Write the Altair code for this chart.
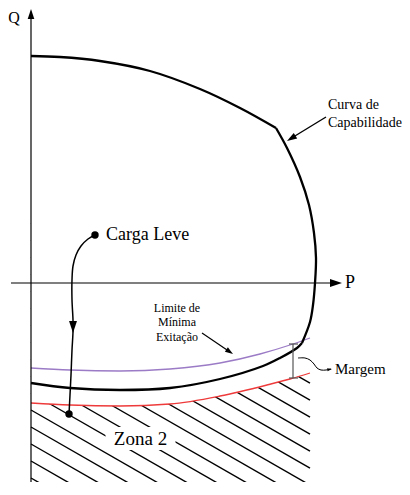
import altair as alt
import pandas as pd
import numpy as np

# ---- data (P, Q in schematic units) ----
upper_P = [0, 29, 69, 119, 169, 209, 245]
upper_Q = [227, 226, 222, 212, 194, 175, 155]
right_P = [245, 256, 269, 278, 283, 285, 284, 282, 279, 271]
right_Q = [155, 135, 106, 78, 50, 25, 0, -22, -39, -60]
lower_P = [271, 266, 249, 232, 189, 139, 89, 39, 0]
lower_Q = [-60, -65, -75, -83, -96, -105, -107, -105, -100]

purple_P = [0, 39, 89, 139, 189, 229, 259, 279]
purple_Q = [-85, -87, -88, -86, -80, -71, -62, -55]

red_P = [0, 39, 89, 139, 189, 236, 259, 279]
red_Q = [-120, -122, -123, -121, -113, -102, -96, -90]

carga_P = [64, 57, 50, 45, 42, 41, 41, 42, 42, 41, 40, 39, 38]
carga_Q = [48, 44, 37, 28, 17, 3, -17, -37, -49, -67, -92, -112, -131]

margem_P = [267, 274, 279, 283, 286, 290, 295, 300]
margem_Q = [-75, -75, -77, -81, -85, -87, -87, -86]

W, H = 394, 474
P_MIN, Q_MAX = -23, 275
P_MAX, Q_MIN = P_MIN + W, Q_MAX - H

xs = alt.Scale(domain=[P_MIN, P_MAX], nice=False, zero=False)
ys = alt.Scale(domain=[Q_MIN, Q_MAX], nice=False, zero=False)


def X(f):
    return alt.X(f, type="quantitative", scale=xs, axis=None)


def Y(f):
    return alt.Y(f, type="quantitative", scale=ys, axis=None)


FONT = "'Liberation Serif', 'Times New Roman', 'DejaVu Serif', serif"

# ---- hatch lines (style) ----
slope = 0.574
hatch_rows = []
for b in range(223, 496, 17):
    for p in (0, 279):
        hatch_rows.append({"id": b, "P": p, "Q": (283 - b) - slope * p})
hatch_df = pd.DataFrame(hatch_rows)
hatch = alt.Chart(hatch_df).mark_line(color="black", strokeWidth=1.4, clip=True).encode(
    x=X("P"), y=Y("Q"), detail="id:N"
)

red_df = pd.DataFrame({"P": red_P, "Q": red_Q, "top": 70})
mask = alt.Chart(red_df).mark_area(color="white", opacity=1, interpolate="monotone").encode(
    x=X("P"), y=Y("Q"), y2="top:Q"
)

zona = {"P": 109.5, "Q": -156}
zona_box_df = pd.DataFrame([{"x": zona["P"] - 35, "x2": zona["P"] + 35,
                             "y": zona["Q"] - 11, "y2": zona["Q"] + 12}])
zona_box = alt.Chart(zona_box_df).mark_rect(color="white").encode(
    x=X("x"), x2="x2", y=Y("y"), y2="y2"
)

red = alt.Chart(red_df).mark_line(color="#ee3a3a", strokeWidth=1.3, interpolate="monotone").encode(
    x=X("P"), y=Y("Q")
)
purple_df = pd.DataFrame({"P": purple_P, "Q": purple_Q})
purple = alt.Chart(purple_df).mark_line(color="#9b7bc6", strokeWidth=1.3, interpolate="monotone").encode(
    x=X("P"), y=Y("Q")
)

cap_rows = []
for seg, (ps, qs) in enumerate([(upper_P, upper_Q), (right_P, right_Q), (lower_P, lower_Q)]):
    for i, (p, q) in enumerate(zip(ps, qs)):
        cap_rows.append({"seg": seg, "o": i, "P": p, "Q": q})
cap_df = pd.DataFrame(cap_rows)
cap = alt.Chart(cap_df).mark_line(color="black", strokeWidth=2.3, interpolate="catmull-rom",
                                  strokeJoin="miter").encode(
    x=X("P"), y=Y("Q"), detail="seg:N", order="o:Q"
)

# axes and straight connectors
rules_df = pd.DataFrame([
    {"x": 0, "y": Q_MIN, "x2": 0, "y2": 268, "c": "black", "w": 1.2},    # Q axis
    {"x": -20, "y": 0, "x2": 305, "y2": 0, "c": "black", "w": 1.2},      # P axis
    {"x": 295, "y": 166, "x2": 259, "y2": 144, "c": "black", "w": 1.4},  # Curva arrow
    {"x": 171, "y": -50, "x2": 199, "y2": -69, "c": "black", "w": 1.2},  # Limite arrow
    {"x": 262, "y": -61, "x2": 262, "y2": -95, "c": "#555555", "w": 1.2},  # Margem bracket
    {"x": 258, "y": -61, "x2": 267, "y2": -61, "c": "#555555", "w": 1.2},
    {"x": 258, "y": -95, "x2": 267, "y2": -95, "c": "#555555", "w": 1.2},
])
rules = alt.Chart(rules_df).mark_rule().encode(
    x=X("x"), y=Y("y"), x2="x2", y2="y2",
    color=alt.Color("c:N", scale=None), strokeWidth=alt.StrokeWidth("w:Q", scale=None)
)

carga_df = pd.DataFrame({"P": carga_P, "Q": carga_Q, "o": range(len(carga_P))})
carga = alt.Chart(carga_df).mark_line(color="black", strokeWidth=1.5, interpolate="catmull-rom").encode(
    x=X("P"), y=Y("Q"), order="o:Q"
)
margem_df = pd.DataFrame({"P": margem_P, "Q": margem_Q, "o": range(len(margem_P))})
margem_line = alt.Chart(margem_df).mark_line(color="black", strokeWidth=1.0, interpolate="catmull-rom").encode(
    x=X("P"), y=Y("Q"), order="o:Q"
)

ARROW = "M0,0L0.33,1L-0.33,1Z"
heads_df = pd.DataFrame([
    {"P": 0, "Q": 274, "a": 0, "s": 400},
    {"P": 311, "Q": 0, "a": 90, "s": 576},
    {"P": 42, "Q": -50, "a": 180, "s": 576},
    {"P": 256, "Q": 142, "a": 238, "s": 400},
    {"P": 202, "Q": -71, "a": 124, "s": 256},
    {"P": 301, "Q": -86, "a": 80, "s": 90},
])
heads = alt.Chart(heads_df).mark_point(shape=ARROW, filled=True, color="black", opacity=1,
                                       strokeWidth=0).encode(
    x=X("P"), y=Y("Q"), angle=alt.Angle("a:Q", scale=None), size=alt.Size("s:Q", scale=None)
)

dots_df = pd.DataFrame({"P": [carga_P[0], carga_P[-1]], "Q": [carga_Q[0], carga_Q[-1]]})
dots = alt.Chart(dots_df).mark_point(shape="circle", filled=True, color="black", opacity=1,
                                     size=55).encode(x=X("P"), y=Y("Q"))

left_txt_df = pd.DataFrame([
    {"P": 314, "Q": 0, "t": "P", "fs": 18},
    {"P": 75, "Q": 48, "t": "Carga Leve", "fs": 18},
    {"P": 297, "Q": 178, "t": "Curva de", "fs": 14},
    {"P": 297, "Q": 160, "t": "Capabilidade", "fs": 14},
    {"P": 304, "Q": -86, "t": "Margem", "fs": 15},
])
left_txt = alt.Chart(left_txt_df).mark_text(align="left", baseline="middle", font=FONT,
                                            color="black").encode(
    x=X("P"), y=Y("Q"), text="t:N", size=alt.Size("fs:Q", scale=None)
)
center_txt_df = pd.DataFrame([
    {"P": -17, "Q": 265, "t": "Q", "fs": 16},
    {"P": zona["P"], "Q": zona["Q"], "t": "Zona 2", "fs": 19},
    {"P": 146, "Q": -25, "t": "Limite de", "fs": 12},
    {"P": 146, "Q": -39, "t": "Mínima", "fs": 12},
    {"P": 146, "Q": -54, "t": "Exitação", "fs": 12},
])
center_txt = alt.Chart(center_txt_df).mark_text(align="center", baseline="middle", font=FONT,
                                                color="black").encode(
    x=X("P"), y=Y("Q"), text="t:N", size=alt.Size("fs:Q", scale=None)
)

chart = alt.layer(
    hatch, mask, zona_box, red, purple, cap, rules, carga, margem_line, heads, dots,
    left_txt, center_txt
).properties(
    width=W, height=H, padding=0, autosize=alt.AutoSizeParams(type="none"), background="white"
).configure_view(stroke=None)

chart.save("out.html", embed_options={"renderer": "svg", "actions": False})
